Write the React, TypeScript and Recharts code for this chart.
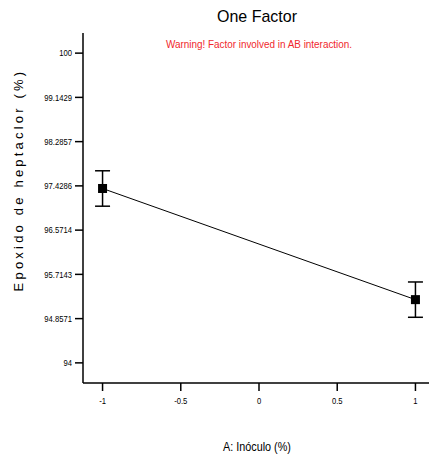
import React from 'react';
import { LineChart, Line, XAxis, YAxis, ErrorBar } from 'recharts';

const levels = [-1, 1];
const means = [97.378, 95.225];
const errors = [0.343, 0.342];
const xTicks = [-1, -0.5, 0, 0.5, 1];
const yTicks = [94, 94.8571, 95.7143, 96.5714, 97.4286, 98.2857, 99.1429, 100];

const data = levels.map((x, i) => ({ x, y: means[i], err: errors[i] }));

const font = '"Liberation Sans", Arial, sans-serif';

const SquareDot = (props: any) => {
  const { cx, cy } = props;
  if (cx == null || cy == null) return null;
  return <rect x={cx - 4.5} y={cy - 4.5} width={9} height={9} fill="#000" />;
};

// narrow-looking tick text, squeezed horizontally
const NarrowTick = (props: any) => {
  const { x, y, payload, textAnchor, dy } = props;
  return (
    <text
      transform={`translate(${x},${y}) scale(0.85,1)`}
      textAnchor={textAnchor}
      dy={dy}
      dominantBaseline={textAnchor === 'middle' ? 'hanging' : 'central'}
      fontSize={9}
      fontFamily={font}
      fill="#000"
    >
      {String(payload.value)}
    </text>
  );
};

const Caption = ({ top, center, size, color, squeeze, children }: any) => (
  <div
    style={{
      position: 'absolute',
      top,
      left: center - 200,
      width: 400,
      textAlign: 'center',
      fontFamily: font,
      fontSize: size,
      color,
      transform: `scaleX(${squeeze})`,
      whiteSpace: 'nowrap',
    }}
  >
    {children}
  </div>
);

const App: React.FC = () => {
  return (
    <div style={{ position: 'absolute', left: 0, top: 0, width: 429, height: 458, overflow: 'hidden', background: '#fff' }}>
      <LineChart
        width={440}
        height={458}
        data={data}
        margin={{ top: 33, right: 5, bottom: 45, left: 0 }}
      >
        <XAxis
          xAxisId="top"
          orientation="top"
          dataKey="x"
          type="number"
          domain={[-1.125, 1.125]}
          tick={false}
          tickLine={false}
          height={0}
          stroke="#000"
          strokeWidth={1.5}
        />
        <XAxis
          dataKey="x"
          type="number"
          domain={[-1.125, 1.125]}
          ticks={xTicks}
          tick={<NarrowTick />}
          tickSize={8}
          tickMargin={6}
          height={30}
          stroke="#000"
          strokeWidth={1.5}
          allowDataOverflow
        />
        <YAxis
          type="number"
          domain={[93.61, 100.39]}
          ticks={yTicks}
          tick={<NarrowTick />}
          tickSize={8}
          tickMargin={3}
          width={83}
          stroke="#000"
          strokeWidth={1.5}
          allowDataOverflow
        />
        <Line
          dataKey="y"
          type="linear"
          stroke="#000"
          strokeWidth={1}
          dot={<SquareDot />}
          activeDot={false}
          isAnimationActive={false}
        >
          <ErrorBar dataKey="err" direction="y" width={7.5} stroke="#000" strokeWidth={1.5} />
        </Line>
      </LineChart>
      <Caption top={7} center={257} size={17} color="#000" squeeze={0.94}>
        One Factor
      </Caption>
      <Caption top={38} center={259} size={11} color="#f0282d" squeeze={0.9}>
        Warning! Factor involved in AB interaction.
      </Caption>
      <Caption top={440} center={257} size={12} color="#000" squeeze={0.9}>
        A: Inóculo (%)
      </Caption>
      <svg style={{ position: 'absolute', left: 0, top: 0 }} width={40} height={458}>
        <text
          x={0}
          y={0}
          transform="translate(23,180) rotate(-90)"
          textAnchor="middle"
          style={{ fontFamily: font, fontSize: 13, letterSpacing: 3.2 }}
          fill="#000"
        >
          Epoxido de heptaclor (%)
        </text>
      </svg>
    </div>
  );
};

export default App;
